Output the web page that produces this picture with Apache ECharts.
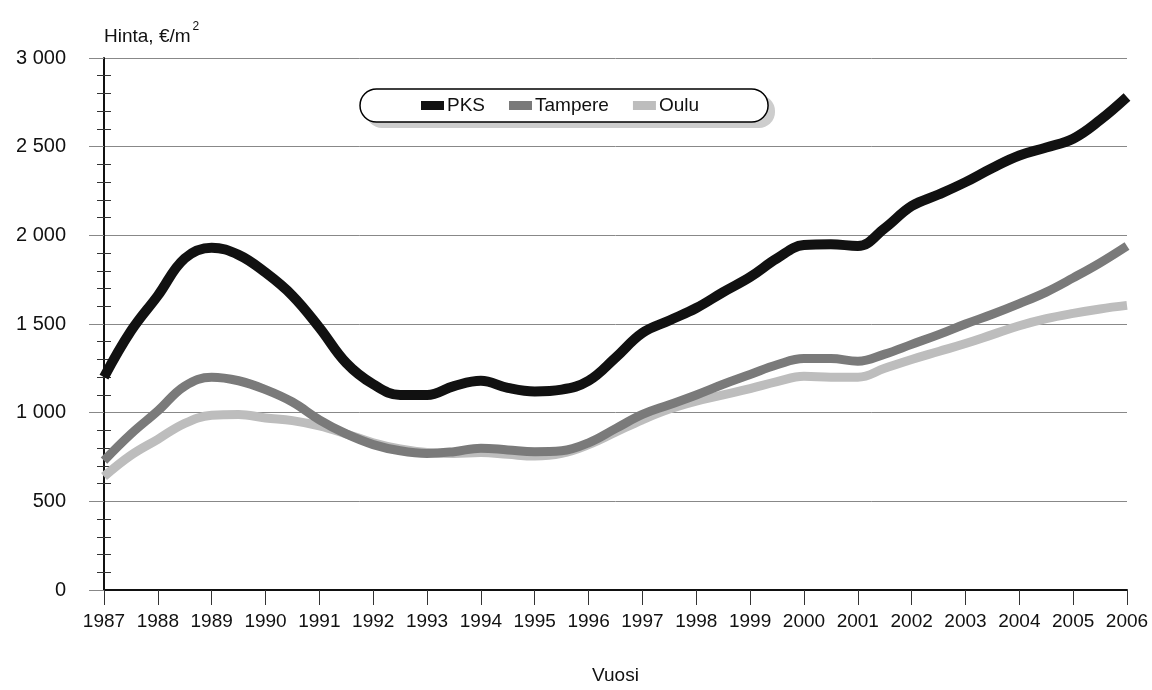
<!DOCTYPE html>
<html>
<head>
<meta charset="utf-8">
<script src="https://cdn.jsdelivr.net/npm/echarts@6/dist/echarts.min.js"></script>
<style>
  html, body { margin: 0; padding: 0; background: #fff; }
  #chart { width: 1152px; height: 690px; }
</style>
</head>
<body>
<div id="chart"></div>
<script>
// half-year points
const years = [1987, 1987.5, 1988, 1988.5, 1989, 1989.5, 1990, 1990.5, 1991, 1991.5,
  1992, 1992.5, 1993, 1993.5, 1994, 1994.5, 1995, 1995.5, 1996, 1996.5,
  1997, 1997.5, 1998, 1998.5, 1999, 1999.5, 2000, 2000.5, 2001, 2001.5,
  2002, 2002.5, 2003, 2003.5, 2004, 2004.5, 2005, 2005.5, 2006]

const pks = [1200, 1460, 1660, 1870, 1930, 1890, 1790, 1660, 1480, 1280,
  1160, 1100, 1100, 1150, 1180, 1140, 1120, 1130, 1180, 1310,
  1450, 1520, 1590, 1680, 1765, 1870, 1945, 1950, 1940, 2040,
  2165, 2230, 2300, 2380, 2450, 2495, 2545, 2650, 2780]

const tampere = [730, 880, 1010, 1150, 1200, 1180, 1130, 1060, 960, 880,
  820, 785, 770, 780, 800, 790, 780, 785, 830, 910,
  990, 1045, 1100, 1160, 1215, 1270, 1305, 1305, 1290, 1330,
  1385, 1440, 1500, 1555, 1615, 1680, 1760, 1845, 1940]

const oulu = [640, 760, 850, 940, 985, 990, 970, 955, 925, 880,
  830, 795, 775, 770, 775, 765, 755, 770, 820, 890,
  960, 1020, 1065, 1100, 1135, 1175, 1205, 1200, 1200, 1250,
  1300, 1345, 1390, 1440, 1490, 1530, 1560, 1585, 1605]

const font = '"Liberation Sans", Arial, sans-serif'

const pair = (arr) => years.map((y, i) => [y, arr[i]])
const spaced = (v) => String(v).replace(/\B(?=(\d{3})+(?!\d))/g, ' ')

const chart = echarts.init(document.getElementById('chart'))
chart.setOption({
  backgroundColor: '#fff',
  animation: false,
  textStyle: { fontFamily: font },
  grid: { left: 104, right: 25, top: 58, bottom: 86 },
  // drop shadow of the legend capsule
  graphic: [{
    type: 'rect',
    left: 366,
    top: 95,
    z: 1,
    shape: { width: 409, height: 33, r: 16 },
    style: { fill: '#cdcdcd' }
  }],
  legend: {
    left: 360,
    top: 89,
    padding: [7, 69, 7, 61],
    itemGap: 24,
    itemWidth: 23,
    itemHeight: 9,
    icon: 'rect',
    z: 5,
    backgroundColor: '#fff',
    borderColor: '#000',
    borderWidth: 1.5,
    borderRadius: 17,
    textStyle: { fontFamily: font, fontSize: 19, color: '#111', padding: [0, 0, 0, -2] },
    data: ['PKS', 'Tampere', 'Oulu']
  },
  xAxis: {
    type: 'value',
    min: 1987,
    max: 2006,
    interval: 1,
    name: 'Vuosi',
    nameLocation: 'middle',
    nameGap: 76,
    nameTextStyle: { fontFamily: font, fontSize: 19, color: '#111' },
    splitLine: { show: false },
    axisLine: { lineStyle: { color: '#111', width: 2 } },
    axisTick: { length: 15, lineStyle: { color: '#333', width: 1 } },
    axisLabel: {
      fontFamily: font, fontSize: 19, color: '#111', margin: 22,
      formatter: (v) => String(v)
    }
  },
  yAxis: [
    {
      type: 'value',
      min: 0,
      max: 3000,
      interval: 500,
      name: '{a|Hinta, €/m}{s|2}',
      nameLocation: 'end',
      nameGap: 5,
      nameTextStyle: {
        align: 'left',
        rich: {
          a: { fontFamily: font, fontSize: 19, color: '#111' },
          s: { fontFamily: font, fontSize: 12, color: '#111', padding: [0, 0, 20, 2] }
        }
      },
      axisLine: { show: true, lineStyle: { color: '#111', width: 2 } },
      axisTick: { show: true, length: 15, lineStyle: { color: '#888', width: 1 } },
      minorTick: { show: true, splitNumber: 5, length: 7, lineStyle: { color: '#333', width: 1 } },
      splitLine: { lineStyle: { color: '#888', width: 1 } },
      axisLabel: {
        fontFamily: font, fontSize: 20, color: '#111', margin: 38,
        formatter: spaced
      }
    },
    {
      // second copy only for the inner half of the crossing minor ticks
      type: 'value',
      min: 0,
      max: 3000,
      interval: 500,
      position: 'left',
      axisLine: { show: false },
      axisTick: { show: false, inside: true },
      minorTick: { show: true, splitNumber: 5, length: 7, lineStyle: { color: '#333', width: 1 } },
      splitLine: { show: false },
      axisLabel: { show: false }
    }
  ],
  series: [
    {
      name: 'PKS',
      type: 'line',
      smooth: 0.4,
      symbol: 'none',
      color: '#111',
      lineStyle: { width: 10, color: '#111' },
      z: 4,
      data: pair(pks)
    },
    {
      name: 'Tampere',
      type: 'line',
      smooth: 0.4,
      symbol: 'none',
      color: '#7a7a7a',
      lineStyle: { width: 9, color: '#7a7a7a' },
      z: 3,
      data: pair(tampere)
    },
    {
      name: 'Oulu',
      type: 'line',
      smooth: 0.4,
      symbol: 'none',
      color: '#bdbdbd',
      lineStyle: { width: 9, color: '#bdbdbd' },
      z: 2,
      data: pair(oulu)
    }
  ]
})
</script>
</body>
</html>
